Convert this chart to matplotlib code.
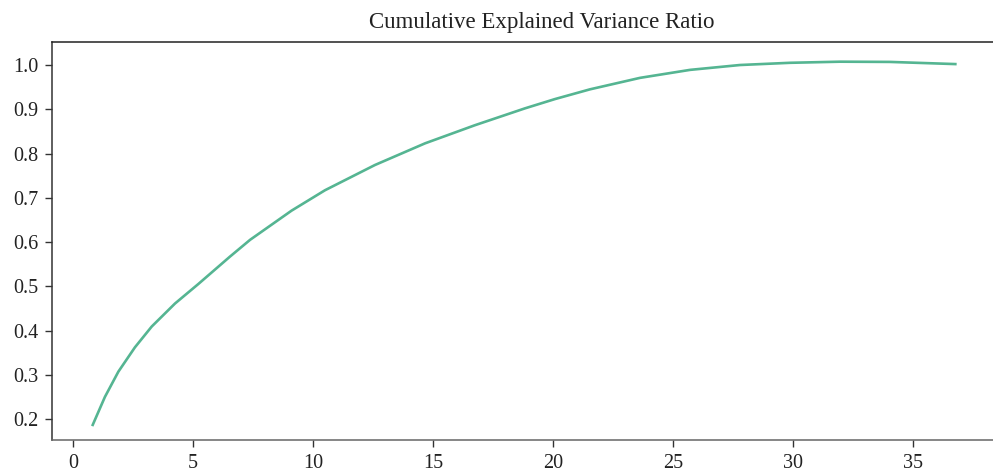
import matplotlib
matplotlib.use("Agg")
import matplotlib.pyplot as plt

n_components = [0.80, 1.33, 1.89, 2.58, 3.28, 4.25, 5.22, 6.54, 7.38, 9.11, 10.5,
                12.58, 14.67, 16.75, 18.83, 20.08, 21.54, 23.63, 25.71, 27.79,
                29.88, 31.96, 34.04, 36.82]
cum_ratio = [0.184, 0.250, 0.307, 0.362, 0.409, 0.461, 0.505, 0.567, 0.605, 0.671,
             0.717, 0.774, 0.823, 0.864, 0.902, 0.923, 0.945, 0.971, 0.989, 1.000,
             1.005, 1.0075, 1.007, 1.002]
x_ticks = [0, 5, 10, 15, 20, 25, 30, 35]
y_ticks = [0.2, 0.3, 0.4, 0.5, 0.6, 0.7, 0.8, 0.9, 1.0]

plt.rcParams['font.family'] = ['Liberation Serif', 'DejaVu Serif']

fig = plt.figure(figsize=(9.93, 4.75), dpi=100)
ax = fig.add_axes([52/993, 35/475, 980/993, 398/475])
ax.plot(n_components, cum_ratio, color='#55b592', lw=1.9, solid_capstyle='butt',
        solid_joinstyle='round')
ax.set_xlim(-0.875, 39.96)
ax.set_ylim(0.1526, 1.052)
ax.set_xticks(x_ticks)
ax.set_yticks(y_ticks)
ax.set_yticklabels([f"{v:.1f}" for v in y_ticks])
ax.spines['right'].set_visible(False)
ax.spines['top'].set_color('#222222')
ax.spines['left'].set_color('#333333')
ax.spines['bottom'].set_color('#666666')
for s in ax.spines.values():
    s.set_linewidth(1.1)
ax.tick_params(direction='out', length=5, width=1, color='#333333',
               labelsize=14.5, labelcolor='#222222', pad=5)
ax.set_title("Cumulative Explained Variance Ratio", fontsize=16.5, color='#222222', pad=10)
fig.savefig("out.png", dpi=100)
